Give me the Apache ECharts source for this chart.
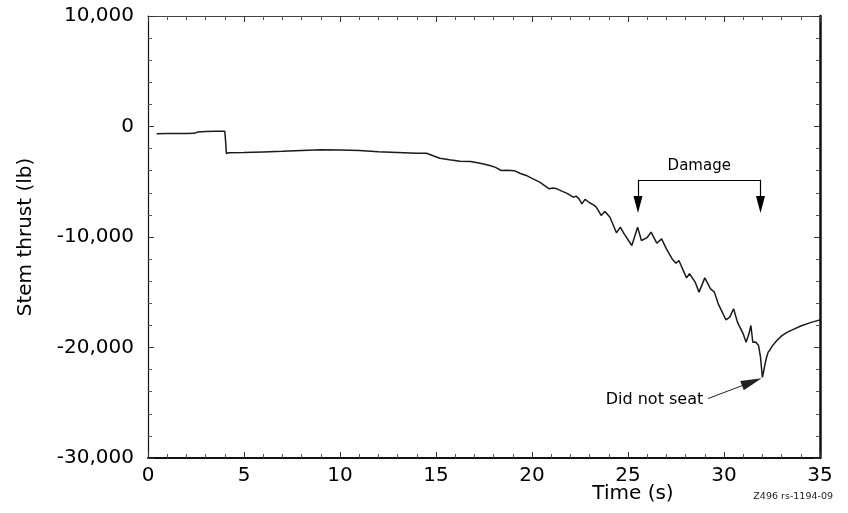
<!DOCTYPE html>
<html>
<head>
<meta charset="utf-8">
<script src="https://cdn.jsdelivr.net/npm/echarts@6/dist/echarts.min.js"></script>
<style>
  html, body { margin: 0; padding: 0; background: #fff; }
  #chart { width: 848px; height: 513px; }
</style>
</head>
<body>
<div id="chart"></div>
<script>
// Stem thrust trace of the valve stroke (time in s, thrust in lb)
const timeSec = [
  0.45, 1.0, 1.5, 2.0, 2.4, 2.45, 2.6, 3.0, 3.5, 4.0, 4.05, 4.08, 4.2,
  5.0, 6.0, 7.0, 8.0, 9.0, 10.0, 11.0, 12.0, 13.0, 14.0, 14.5,
  15.2, 15.7, 16.25, 16.8, 17.3, 17.8, 18.1, 18.4, 18.7, 19.1, 19.4, 19.7, 20.0,
  20.4, 20.9, 21.1, 21.3, 21.55, 21.8, 22.15, 22.3, 22.45, 22.6, 22.76, 23.0, 23.2, 23.35,
  23.6, 23.8, 24.06, 24.4, 24.6, 24.8, 25.2, 25.5, 25.7, 26.0, 26.2, 26.5,
  26.75, 27.0, 27.3, 27.5, 27.65, 28.05, 28.2, 28.5, 28.7, 29.0, 29.3,
  29.5, 29.7, 30.1, 30.3, 30.5, 30.7, 30.8, 31.0, 31.15, 31.3, 31.4,
  31.5, 31.65, 31.8, 31.9, 32.0, 32.05, 32.15, 32.2, 32.3, 32.4, 32.5,
  32.75, 33.0, 33.3, 33.5, 34.0, 34.5, 35.0
];
const thrustLb = [
  -650, -640, -640, -630, -620, -460, -500, -450, -420, -430, -1500, -2450, -2380,
  -2350, -2300, -2250, -2170, -2110, -2130, -2180, -2280, -2350, -2420, -2420,
  -2870, -3000, -3140, -3170, -3330, -3530, -3700, -3980, -3960, -4010, -4250, -4430, -4700,
  -5040, -5640, -5560, -5640, -5850, -6030, -6400, -6300, -6550, -7000, -6600, -6900, -7090, -7300,
  -8050, -7690, -8210, -9620, -9110, -9710, -10770, -9110, -10320, -10050, -9560, -10560,
  -10170, -11070, -11980, -12370, -12130, -13700, -13330, -14090, -14990, -13700, -14690,
  -14990, -16050, -17490, -17250, -16490, -17700, -17860, -18760, -19520, -18760, -18010,
  -19520, -19500, -19820, -20880, -22700, -22300, -21400, -21000, -20420, -20200, -19900,
  -19370, -18950, -18610, -18450, -18050, -17750, -17500
];

// Axis ranges and tick steps
const xRange = [0, 35];
const xStep = 5;
const yRange = [-30000, 10000];
const yStep = 10000;

// Annotation anchors, in data units (arrow ends mark the centre of each arrowhead)
const damageStart = 25.52;
const damageEnd = 31.9;
const bracketLevel = -4820;
const arrowHeadLevel = -7050;
const seatArrowFrom = [29.17, -24620];
const seatArrowTo = [31.45, -23120];

const series = timeSec.map((t, i) => [t, thrustLb[i]]);

const FONT = 'DejaVu Sans';
const INK = '#111';

function axisCommon(showLabels, lineWidth, lineColor) {
  return {
    axisLine: { show: true, onZero: false, lineStyle: { color: lineColor, width: lineWidth } },
    axisTick: { show: true, inside: true, length: 6, lineStyle: { color: '#333', width: 1 } },
    minorTick: { show: true, splitNumber: 5, length: 4, lineStyle: { color: '#555', width: 1 } },
    splitLine: { show: false },
    minorSplitLine: { show: false },
    axisLabel: { show: showLabels, color: '#000', fontFamily: FONT, fontSize: 20 }
  };
}

const chart = echarts.init(document.getElementById('chart'), null, { renderer: 'canvas' });

const option = {
  animation: false,
  backgroundColor: '#fff',
  grid: { left: 148, right: 28, top: 16, bottom: 55, containLabel: false },
  xAxis: [
    Object.assign(axisCommon(true, 2, INK), {
      type: 'value', min: xRange[0], max: xRange[1], interval: xStep, position: 'bottom',
      axisLabel: { show: true, color: '#000', fontFamily: FONT, fontSize: 20, margin: 8 }
    }),
    Object.assign(axisCommon(false, 1, '#444'), {
      type: 'value', min: xRange[0], max: xRange[1], interval: xStep, position: 'top'
    })
  ],
  yAxis: [
    Object.assign(axisCommon(true, 1.2, INK), {
      type: 'value', min: yRange[0], max: yRange[1], interval: yStep, position: 'left',
      axisLabel: {
        show: true, color: '#000', fontFamily: FONT, fontSize: 20, margin: 14,
        formatter: v => v.toLocaleString('en-US')
      },
      name: 'Stem thrust (lb)', nameLocation: 'middle', nameGap: 112, nameRotate: 90,
      nameTextStyle: { color: '#000', fontFamily: FONT, fontSize: 20 }
    }),
    Object.assign(axisCommon(false, 2.5, INK), {
      type: 'value', min: yRange[0], max: yRange[1], interval: yStep, position: 'right'
    })
  ],
  series: [
    {
      type: 'line',
      data: series,
      xAxisIndex: 0,
      yAxisIndex: 0,
      showSymbol: false,
      symbol: 'none',
      lineStyle: { color: '#1a1a1a', width: 1.5 },
      silent: true,
      markLine: {
        silent: true,
        animation: false,
        label: { show: false },
        lineStyle: { color: '#000', width: 1.2, type: 'solid' },
        data: [
          [
            { coord: [damageStart, bracketLevel], symbol: 'none' },
            { coord: [damageEnd, bracketLevel], symbol: 'none' }
          ],
          [
            { coord: [damageStart, bracketLevel], symbol: 'none' },
            { coord: [damageStart, arrowHeadLevel], symbol: 'triangle', symbolSize: [9, 17], symbolRotate: 180 }
          ],
          [
            { coord: [damageEnd, bracketLevel], symbol: 'none' },
            { coord: [damageEnd, arrowHeadLevel], symbol: 'triangle', symbolSize: [9, 17], symbolRotate: 180 }
          ],
          [
            { coord: seatArrowFrom, symbol: 'none', lineStyle: { color: '#222', width: 1 } },
            { coord: seatArrowTo, symbol: 'triangle', symbolSize: [10, 21], itemStyle: { color: '#000' }, lineStyle: { color: '#222', width: 1 } }
          ]
        ]
      }
    }
  ]
};

chart.setOption(option);

// Text annotations placed in data coordinates
function placeText() {
  const damagePos = chart.convertToPixel({ gridIndex: 0 }, [(damageStart + damageEnd) / 2, -3550]);
  const seatPos = chart.convertToPixel({ gridIndex: 0 }, [seatArrowFrom[0] - 0.25, -24700]);
  chart.setOption({
    graphic: [
      {
        type: 'text', x: damagePos[0], y: damagePos[1],
        style: { text: 'Damage', fill: '#000', font: '15px "DejaVu Sans"', align: 'center', verticalAlign: 'middle' }
      },
      {
        type: 'text', x: seatPos[0], y: seatPos[1],
        style: { text: 'Did not seat', fill: '#000', font: '16px "DejaVu Sans"', align: 'right', verticalAlign: 'middle' }
      },
      {
        type: 'text', x: 633, y: 494,
        style: { text: 'Time (s)', fill: '#000', font: '20px "DejaVu Sans"', align: 'center', verticalAlign: 'middle' }
      },
      {
        type: 'text', x: 833, y: 497,
        style: { text: 'Z496 rs-1194-09', fill: '#222', font: '9.5px "DejaVu Sans"', align: 'right', verticalAlign: 'middle' }
      }
    ]
  });
}
placeText();
</script>
</body>
</html>
